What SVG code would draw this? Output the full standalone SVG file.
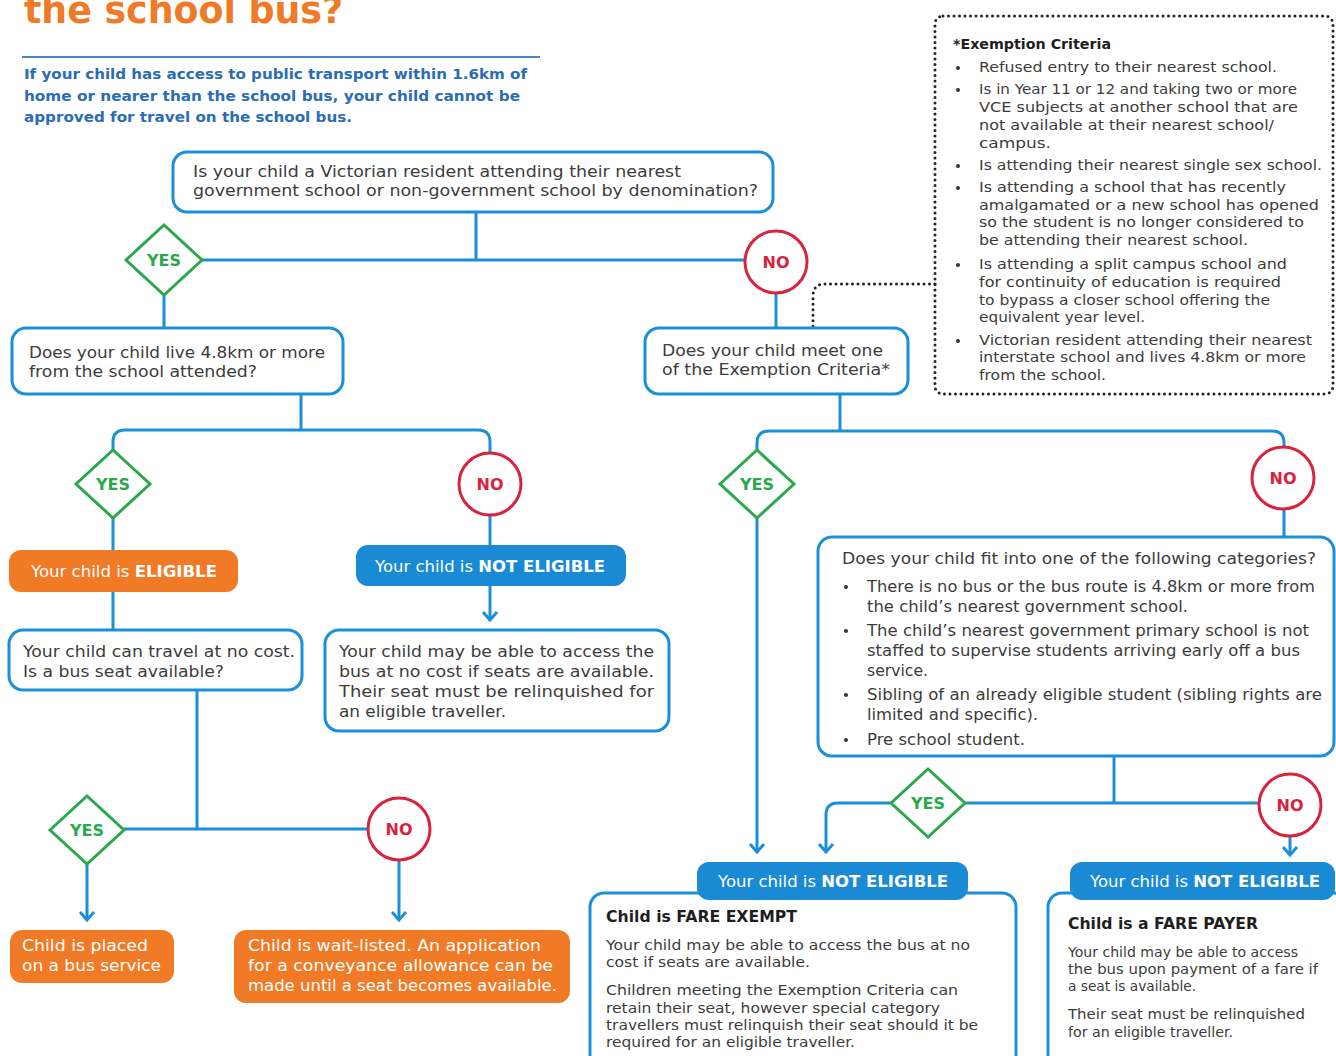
<svg xmlns="http://www.w3.org/2000/svg" width="1336" height="1056" viewBox="0 0 1336 1056">
<style>
.box{fill:#fff;stroke:#1b8fd8;stroke-width:3}
.ln{fill:none;stroke:#1b8fd8;stroke-width:3}
.yes{fill:#fff;stroke:#2aa84a;stroke-width:3}
.no{fill:#fff;stroke:#d9233c;stroke-width:3}
.yt{font-family:"DejaVu Sans",sans-serif;font-weight:bold;font-size:16px;fill:#2aa84a;text-anchor:middle}
.nt{font-family:"DejaVu Sans",sans-serif;font-weight:bold;font-size:16px;fill:#d9233c;text-anchor:middle}
.t{font-family:"DejaVu Sans",sans-serif;font-size:16px;fill:#3c3c3c}
.s{font-size:14px}
.m{font-size:15px}
.b{font-weight:bold;fill:#1e1e1e}
.w{fill:#fff}
.orange{fill:#f07a26}
.blue{fill:#1b8ad4}
.dot{fill:#333}
</style>
<defs>
<marker id="arr" markerUnits="userSpaceOnUse" markerWidth="12" markerHeight="18" viewBox="0 0 12 18" refX="10" refY="9" orient="auto">
<path d="M2,2 L10,9 L2,16" fill="none" stroke="#1b8fd8" stroke-width="3"/>
</marker>
</defs>
<rect width="1336" height="1056" fill="#fff"/>

<g id="title">
<text x="24" y="23" font-family="DejaVu Sans, sans-serif" font-weight="bold" font-size="37" fill="#f07a26" textLength="319" lengthAdjust="spacingAndGlyphs">the school bus?</text>
<line x1="22" y1="57" x2="540" y2="57" stroke="#4a86c5" stroke-width="2"/>
<text font-family="DejaVu Sans, sans-serif" font-weight="bold" font-size="14.5" fill="#2a6db5">
<tspan x="24" y="79" textLength="503" lengthAdjust="spacingAndGlyphs">If your child has access to public transport within 1.6km of</tspan>
<tspan x="24" y="101" textLength="496" lengthAdjust="spacingAndGlyphs">home or nearer than the school bus, your child cannot be</tspan>
<tspan x="24" y="122" textLength="328" lengthAdjust="spacingAndGlyphs">approved for travel on the school bus.</tspan>
</text>
</g>

<g id="connectors">
<path class="ln" d="M476,212 V260 M201,260 H745"/>
<path class="ln" d="M164,295 V328"/>
<path class="ln" d="M776,293 V328"/>
<path d="M935,284 H825 Q813,284 813,296 V328" fill="none" stroke="#222" stroke-width="3" stroke-linecap="round" stroke-dasharray="0 5.5"/>
<path class="ln" d="M301,394 V430 M113,450 V442 Q113,430 125,430 H478 Q490,430 490,442 V453"/>
<path class="ln" d="M113,518 V550 M113,592 V630"/>
<path class="ln" d="M490,515 V545"/>
<path class="ln" d="M490,586 V620" marker-end="url(#arr)"/>
<path class="ln" d="M197,690 V829 M124,829 H368"/>
<path class="ln" d="M87,864 V920" marker-end="url(#arr)"/>
<path class="ln" d="M399,860 V920" marker-end="url(#arr)"/>
<path class="ln" d="M840,394 V431 M757,450 V443 Q757,431 769,431 H1272 Q1284,431 1284,443 V447"/>
<path class="ln" d="M1284,509 V537"/>
<path class="ln" d="M757,518 V852" marker-end="url(#arr)"/>
<path class="ln" d="M1114,756 V803 M965,803 H1259"/>
<path class="ln" d="M891,803 H838 Q826,803 826,815 V852" marker-end="url(#arr)"/>
<path class="ln" d="M1290,836 V855" marker-end="url(#arr)"/>
</g>

<g id="q1">
<rect class="box" x="173" y="152" width="600" height="60" rx="14"/>
<text class="t" font-size="16.5"><tspan x="193" y="177" textLength="488" lengthAdjust="spacingAndGlyphs">Is your child a Victorian resident attending their nearest</tspan><tspan x="193" y="196" textLength="565" lengthAdjust="spacingAndGlyphs">government school or non-government school by denomination?</tspan></text>
</g>

<g id="yes1"><polygon class="yes" points="126,260 164,225 202,260 164,295"/><text class="yt" x="164" y="266">YES</text></g>
<g id="no1"><circle class="no" cx="776" cy="262" r="31"/><text class="nt" x="776" y="268">NO</text></g>

<g id="q2">
<rect class="box" x="12" y="328" width="331" height="66" rx="14"/>
<text class="t" font-size="16.5"><tspan x="29" y="358" textLength="296" lengthAdjust="spacingAndGlyphs">Does your child live 4.8km or more</tspan><tspan x="29" y="377" textLength="228" lengthAdjust="spacingAndGlyphs">from the school attended?</tspan></text>
</g>

<g id="q3">
<rect class="box" x="645" y="328" width="263" height="66" rx="14"/>
<text class="t" font-size="16.5"><tspan x="662" y="356" textLength="221" lengthAdjust="spacingAndGlyphs">Does your child meet one</tspan><tspan x="662" y="375" textLength="228" lengthAdjust="spacingAndGlyphs">of the Exemption Criteria*</tspan></text>
</g>

<g id="exemption">
<rect x="935" y="16" width="398" height="378" rx="8" fill="none" stroke="#222" stroke-width="3" stroke-linecap="round" stroke-dasharray="0 5.5"/>
<text class="t s b" x="953" y="49" textLength="158" lengthAdjust="spacingAndGlyphs">*Exemption Criteria</text>
<g class="dot"><circle cx="958" cy="68" r="2"/><circle cx="958" cy="90" r="2"/><circle cx="958" cy="166" r="2"/><circle cx="958" cy="188" r="2"/><circle cx="958" cy="265" r="2"/><circle cx="958" cy="341" r="2"/></g>
<text class="t s">
<tspan x="979" y="72" textLength="298" lengthAdjust="spacingAndGlyphs">Refused entry to their nearest school.</tspan>
<tspan x="979" y="94" textLength="318" lengthAdjust="spacingAndGlyphs">Is in Year 11 or 12 and taking two or more</tspan>
<tspan x="979" y="112" textLength="319" lengthAdjust="spacingAndGlyphs">VCE subjects at another school that are</tspan>
<tspan x="979" y="130" textLength="295" lengthAdjust="spacingAndGlyphs">not available at their nearest school/</tspan>
<tspan x="979" y="148" textLength="72" lengthAdjust="spacingAndGlyphs">campus.</tspan>
<tspan x="979" y="170" textLength="343" lengthAdjust="spacingAndGlyphs">Is attending their nearest single sex school.</tspan>
<tspan x="979" y="192" textLength="307" lengthAdjust="spacingAndGlyphs">Is attending a school that has recently</tspan>
<tspan x="979" y="210" textLength="340" lengthAdjust="spacingAndGlyphs">amalgamated or a new school has opened</tspan>
<tspan x="979" y="227" textLength="325" lengthAdjust="spacingAndGlyphs">so the student is no longer considered to</tspan>
<tspan x="979" y="245" textLength="269" lengthAdjust="spacingAndGlyphs">be attending their nearest school.</tspan>
<tspan x="979" y="269" textLength="308" lengthAdjust="spacingAndGlyphs">Is attending a split campus school and</tspan>
<tspan x="979" y="287" textLength="302" lengthAdjust="spacingAndGlyphs">for continuity of education is required</tspan>
<tspan x="979" y="305" textLength="291" lengthAdjust="spacingAndGlyphs">to bypass a closer school offering the</tspan>
<tspan x="979" y="322" textLength="166" lengthAdjust="spacingAndGlyphs">equivalent year level.</tspan>
<tspan x="979" y="345" textLength="333" lengthAdjust="spacingAndGlyphs">Victorian resident attending their nearest</tspan>
<tspan x="979" y="362" textLength="327" lengthAdjust="spacingAndGlyphs">interstate school and lives 4.8km or more</tspan>
<tspan x="979" y="380" textLength="127" lengthAdjust="spacingAndGlyphs">from the school.</tspan>
</text>
</g>

<g id="yes2"><polygon class="yes" points="76,484 113,450 150,484 113,518"/><text class="yt" x="113" y="490">YES</text></g>
<g id="no2"><circle class="no" cx="490" cy="484" r="31"/><text class="nt" x="490" y="490">NO</text></g>

<g id="eligible">
<rect class="orange" x="9" y="550" width="229" height="42" rx="12"/>
<text class="t w" x="31" y="577" textLength="186" lengthAdjust="spacingAndGlyphs">Your child is <tspan font-weight="bold">ELIGIBLE</tspan></text>
</g>

<g id="noteligible1">
<rect class="blue" x="356" y="545" width="270" height="41" rx="12"/>
<text class="t w" x="375" y="572" textLength="230" lengthAdjust="spacingAndGlyphs">Your child is <tspan font-weight="bold">NOT ELIGIBLE</tspan></text>
</g>

<g id="q4">
<rect class="box" x="9" y="630" width="293" height="60" rx="14"/>
<text class="t"><tspan x="23" y="657" textLength="272" lengthAdjust="spacingAndGlyphs">Your child can travel at no cost.</tspan><tspan x="23" y="677" textLength="201" lengthAdjust="spacingAndGlyphs">Is a bus seat available?</tspan></text>
</g>

<g id="r1">
<rect class="box" x="325" y="630" width="344" height="101" rx="14"/>
<text class="t"><tspan x="339" y="657" textLength="315" lengthAdjust="spacingAndGlyphs">Your child may be able to access the</tspan><tspan x="339" y="677" textLength="315" lengthAdjust="spacingAndGlyphs">bus at no cost if seats are available.</tspan><tspan x="339" y="697" textLength="315" lengthAdjust="spacingAndGlyphs">Their seat must be relinquished for</tspan><tspan x="339" y="717" textLength="167" lengthAdjust="spacingAndGlyphs">an eligible traveller.</tspan></text>
</g>

<g id="yes3"><polygon class="yes" points="50,830 87,796 124,830 87,864"/><text class="yt" x="87" y="836">YES</text></g>
<g id="no3"><circle class="no" cx="399" cy="829" r="31"/><text class="nt" x="399" y="835">NO</text></g>

<g id="placed">
<rect class="orange" x="10" y="930" width="164" height="53" rx="12"/>
<text class="t w"><tspan x="22" y="951" textLength="126" lengthAdjust="spacingAndGlyphs">Child is placed</tspan><tspan x="22" y="971" textLength="139" lengthAdjust="spacingAndGlyphs">on a bus service</tspan></text>
</g>

<g id="waitlisted">
<rect class="orange" x="234" y="930" width="336" height="73" rx="12"/>
<text class="t w"><tspan x="248" y="951" textLength="293" lengthAdjust="spacingAndGlyphs">Child is wait-listed. An application</tspan><tspan x="248" y="971" textLength="305" lengthAdjust="spacingAndGlyphs">for a conveyance allowance can be</tspan><tspan x="248" y="991" textLength="309" lengthAdjust="spacingAndGlyphs">made until a seat becomes available.</tspan></text>
</g>

<g id="yes4"><polygon class="yes" points="720,484 757,450 794,484 757,518"/><text class="yt" x="757" y="490">YES</text></g>
<g id="no4"><circle class="no" cx="1283" cy="478" r="31"/><text class="nt" x="1283" y="484">NO</text></g>

<g id="q5">
<rect class="box" x="818" y="537" width="516" height="219" rx="14"/>
<text class="t m" x="842" y="564" textLength="474" lengthAdjust="spacingAndGlyphs">Does your child fit into one of the following categories?</text>
<g class="dot"><circle cx="846" cy="587" r="2"/><circle cx="846" cy="631" r="2"/><circle cx="846" cy="695" r="2"/><circle cx="846" cy="740" r="2"/></g>
<text class="t m">
<tspan x="867" y="592" textLength="448" lengthAdjust="spacingAndGlyphs">There is no bus or the bus route is 4.8km or more from</tspan>
<tspan x="867" y="612" textLength="321" lengthAdjust="spacingAndGlyphs">the child’s nearest government school.</tspan>
<tspan x="867" y="636" textLength="442" lengthAdjust="spacingAndGlyphs">The child’s nearest government primary school is not</tspan>
<tspan x="867" y="656" textLength="433" lengthAdjust="spacingAndGlyphs">staffed to supervise students arriving early off a bus</tspan>
<tspan x="867" y="676" textLength="61" lengthAdjust="spacingAndGlyphs">service.</tspan>
<tspan x="867" y="700" textLength="455" lengthAdjust="spacingAndGlyphs">Sibling of an already eligible student (sibling rights are</tspan>
<tspan x="867" y="720" textLength="171" lengthAdjust="spacingAndGlyphs">limited and specific).</tspan>
<tspan x="867" y="745" textLength="158" lengthAdjust="spacingAndGlyphs">Pre school student.</tspan>
</text>
</g>

<g id="yes5"><polygon class="yes" points="891,803 928,769 965,803 928,837"/><text class="yt" x="928" y="809">YES</text></g>
<g id="no5"><circle class="no" cx="1290" cy="805" r="31"/><text class="nt" x="1290" y="811">NO</text></g>

<g id="fareexempt">
<rect class="box" x="590" y="893" width="426" height="180" rx="14"/>
<rect class="blue" x="697" y="862" width="271" height="38" rx="12"/>
<text class="t w" x="718" y="887" textLength="230" lengthAdjust="spacingAndGlyphs">Your child is <tspan font-weight="bold">NOT ELIGIBLE</tspan></text>
<text class="t m b" x="606" y="922" textLength="191" lengthAdjust="spacingAndGlyphs">Child is FARE EXEMPT</text>
<text class="t s">
<tspan x="606" y="950" textLength="364" lengthAdjust="spacingAndGlyphs">Your child may be able to access the bus at no</tspan>
<tspan x="606" y="967" textLength="204" lengthAdjust="spacingAndGlyphs">cost if seats are available.</tspan>
<tspan x="606" y="995" textLength="352" lengthAdjust="spacingAndGlyphs">Children meeting the Exemption Criteria can</tspan>
<tspan x="606" y="1013" textLength="334" lengthAdjust="spacingAndGlyphs">retain their seat, however special category</tspan>
<tspan x="606" y="1030" textLength="372" lengthAdjust="spacingAndGlyphs">travellers must relinquish their seat should it be</tspan>
<tspan x="606" y="1047" textLength="249" lengthAdjust="spacingAndGlyphs">required for an eligible traveller.</tspan>
</text>
</g>

<g id="farepayer">
<rect class="box" x="1048" y="893" width="300" height="180" rx="14"/>
<rect class="blue" x="1070" y="862" width="265" height="38" rx="12"/>
<text class="t w" x="1090" y="887" textLength="230" lengthAdjust="spacingAndGlyphs">Your child is <tspan font-weight="bold">NOT ELIGIBLE</tspan></text>
<text class="t m b" x="1068" y="929" textLength="190" lengthAdjust="spacingAndGlyphs">Child is a FARE PAYER</text>
<text class="t s">
<tspan x="1068" y="957" textLength="230" lengthAdjust="spacingAndGlyphs">Your child may be able to access</tspan>
<tspan x="1068" y="974" textLength="250" lengthAdjust="spacingAndGlyphs">the bus upon payment of a fare if</tspan>
<tspan x="1068" y="991" textLength="128" lengthAdjust="spacingAndGlyphs">a seat is available.</tspan>
<tspan x="1068" y="1019" textLength="237" lengthAdjust="spacingAndGlyphs">Their seat must be relinquished</tspan>
<tspan x="1068" y="1037" textLength="165" lengthAdjust="spacingAndGlyphs">for an eligible traveller.</tspan>
</text>
</g>
</svg>
